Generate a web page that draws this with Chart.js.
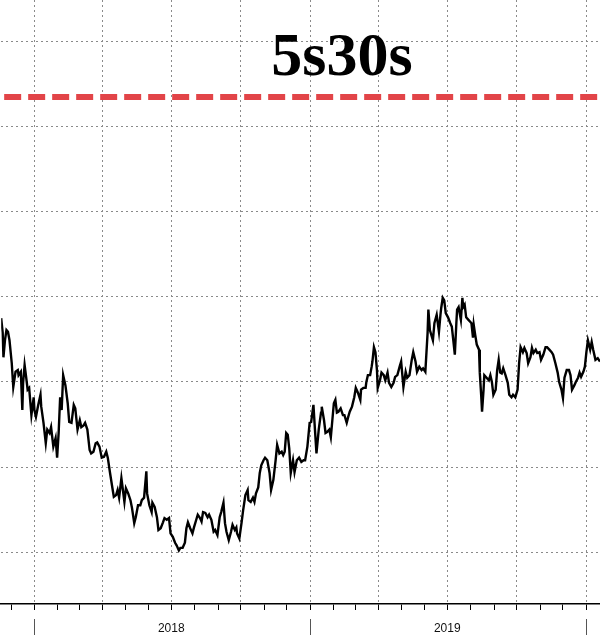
<!DOCTYPE html>
<html>
<head>
<meta charset="utf-8">
<script src="https://cdn.jsdelivr.net/npm/chart.js@4.4.0/dist/chart.umd.min.js"></script>
<style>
  html, body { margin: 0; padding: 0; background: #fff; }
  #wrap { width: 600px; height: 635px; position: relative; }
</style>
</head>
<body>
<div id="wrap"><canvas id="spread_chart"></canvas></div>
<script>
const chartTitle = '5s30s';

// days counted from 2018-01-01
const days = [
  -44,-42,-41,-39,-37,-35,-33,-30,-28,-25,
  -22,-21,-18,-16,-15,-13,-11,-9,-7,-4,
  -1,0,2,5,8,9,12,15,17,20,
  22,25,28,30,32,34,36,38,41,44,
  46,49,52,54,57,60,62,65,67,70,
  73,75,78,81,83,86,89,
  92,95,97,100,103,105,108,110,112,115,
  117,119,121,124,127,129,132,134,137,140,
  142,145,148,149,152,155,156,159,162,164,
  167,170,172,175,178,180,183,186,188,191,
  193,196,199,201,203,206,209,211,214,216,
  219,221,
  223,226,229,231,234,237,239,242,245,247,
  250,252,254,257,260,262,265,267,268,271,
  274,276,279,282,283,286,289,291,293,296,
  298,300,303,305,308,311,313,316,319,321,
  324,327,329,331,333,335,337,339,342,344,
  347,350,353,
  356,358,361,364,366,369,371,373,376,379,
  380,383,385,387,390,392,394,396,398,400,
  402,405,408,410,413,415,417,420,423,425,
  428,431,432,435,438,439,441,444,446,447,
  449,451,453,454,457,459,462,464,467,469,
  472,475,477,480,483,485,
  488,491,493,496,499,501,504,506,509,512,
  514,517,520,521,523,527,529,532,535,537,
  538,540,542,544,547,550,552,554,556,558,
  559,561,564,566,567,569,571,574,576,578,
  580,581,583,585,588,589,591,592,594,595,
  598,601,603,605,607,610,612,614,616,618,
  620,623,626,628,631,633,636,639,641,643,
  646,648,651,653,656,658,660,663,665,668,
  670,673,676,678,681,684,686,689,692,694,
  697,699,701,704,707,709,711,714,716,719,
  721,723,726,728,730,732,735,737,739,742,
  745,748
];

// 5s30s spread, bp
const spread = [
  57.5,55.8,52.9,54.9,56.1,55.9,54.9,52.2,49.4,51.2,
  51.4,50.8,51.2,46.7,49.9,52.0,50.6,49.1,49.3,46.1,
  48.2,46.7,45.9,47.3,48.5,47.1,45.2,42.8,44.4,44.0,
  44.7,42.4,43.4,41.1,44.0,48.2,46.7,50.8,49.6,47.5,
  45.3,45.2,47.3,46.9,44.4,45.5,44.7,44.9,45.2,44.4,
  42.0,41.6,41.8,42.8,42.9,42.4,41.1,
  41.2,41.8,41.1,39.3,37.6,36.5,36.7,37.3,36.4,38.7,
  37.3,35.9,37.5,36.9,36.1,35.2,33.4,34.1,35.5,35.5,
  36.1,36.4,39.5,36.9,35.5,34.7,35.8,35.3,34.1,32.6,
  32.8,33.5,34.0,33.8,34.0,32.2,31.8,31.1,30.8,30.2,
  30.5,30.5,31.1,32.8,33.5,32.8,32.2,32.9,33.8,34.4,
  34.0,33.6,
  34.7,34.6,34.1,34.4,33.8,32.4,32.6,32.0,34.1,34.7,
  35.8,33.4,32.4,31.4,32.4,33.2,32.6,32.9,32.2,31.6,
  33.5,34.9,36.7,37.3,36.1,35.9,36.4,35.9,36.9,37.6,
  39.3,40.2,40.8,41.1,40.8,39.3,37.3,38.5,40.8,42.6,
  41.6,41.8,41.4,41.8,44.0,43.8,42.2,39.3,40.8,39.4,
  40.8,41.1,40.6,
  40.8,40.8,42.4,45.2,45.3,47.3,44.4,41.6,44.4,46.4,
  47.1,45.5,44.0,44.1,44.4,43.5,45.5,47.5,47.9,46.4,
  46.5,46.9,46.1,46.1,45.2,45.9,46.5,47.1,48.2,49.3,
  48.7,47.9,49.1,49.3,49.3,50.0,50.8,50.8,51.8,52.4,
  54.1,53.5,51.4,49.3,50.2,51.1,50.8,50.2,51.1,49.9,
  49.4,49.9,50.6,50.8,51.8,52.4,
  49.4,51.2,50.5,50.8,52.6,53.5,52.4,51.2,51.8,51.4,
  51.6,51.2,55.8,58.5,56.1,54.9,56.9,57.9,55.9,57.9,
  58.7,59.9,59.6,58.1,57.6,56.9,56.5,54.9,53.2,56.9,
  58.5,58.8,57.3,59.9,58.8,59.1,57.6,57.3,57.1,56.9,
  55.2,56.7,55.5,54.4,53.8,51.1,48.2,46.5,49.1,50.8,
  50.5,50.2,50.8,50.0,48.5,49.1,51.4,52.6,51.1,51.0,
  51.6,50.8,49.9,48.5,48.2,48.5,48.2,49.1,52.2,54.1,
  53.5,54.0,53.4,52.2,52.9,54.0,53.4,53.8,53.4,53.5,
  52.6,53.2,54.1,54.1,53.8,53.5,53.2,52.2,51.1,50.0,
  49.1,48.1,50.5,51.4,51.4,50.8,49.1,49.6,50.0,50.5,
  51.1,50.6,51.2,51.8,53.5,54.9,53.8,54.7,53.8,52.6,
  52.8,52.4
];

const refLevel = 83.5;

const monthStarts = [-31, 0, 31, 59, 90, 120, 151, 181, 212, 243, 273, 304, 334,
  365, 396, 424, 455, 485, 516, 546, 577, 608, 638, 669, 699, 730];
const quarterStarts = [0, 90, 181, 273, 365, 455, 546, 638, 730];
const yearStarts = [0, 365, 730];
const labelDays = [181, 546];
const yearNames = ['2018', '2019'];
const gridLevels = [30, 40, 50, 60, 70, 80, 90];

const xMin = -44, xMax = 748;
const yMin = 23.9, yMax = 94.9;

/* extra drawing: year separators + big title */
const extras = {
  id: 'extras',
  afterDraw(chart) {
    const ctx = chart.ctx;
    const x = chart.scales.x;
    ctx.save();
    ctx.strokeStyle = '#555';
    ctx.lineWidth = 1;
    yearStarts.forEach(d => {
      const px = Math.round(x.getPixelForValue(d)) + 0.5;
      ctx.beginPath();
      ctx.moveTo(px, x.bottom - 16);
      ctx.lineTo(px, x.bottom);
      ctx.stroke();
    });
    ctx.font = 'bold 62px "Liberation Serif"';
    ctx.fillStyle = '#000';
    ctx.textAlign = 'center';
    ctx.textBaseline = 'alphabetic';
    ctx.fillText(chartTitle, 342, 75);
    ctx.restore();
  }
};

const ctx = document.getElementById('spread_chart').getContext('2d');

new Chart(ctx, {
  type: 'line',
  data: {
    datasets: [{
      data: days.map((d, i) => ({ x: d, y: spread[i] })),
      borderColor: '#000',
      borderWidth: 2.4,
      pointRadius: 0,
      tension: 0,
      fill: false
    }, {
      data: [{ x: xMin, y: refLevel }, { x: xMax, y: refLevel }],
      borderColor: 'rgb(226,68,72)',
      borderWidth: 6,
      borderDash: [17, 7],
      borderDashOffset: 21,
      pointRadius: 0,
      fill: false
    }]
  },
  options: {
    responsive: true,
    maintainAspectRatio: false,
    animation: false,
    layout: { padding: 0, autoPadding: false },
    plugins: {
      legend: { display: false },
      tooltip: { enabled: false },
      title: { display: false }
    },
    scales: {
      x: {
        type: 'linear',
        min: xMin,
        max: xMax,
        afterBuildTicks: scale => {
          scale.ticks = monthStarts.filter(v => v >= xMin && v <= xMax).map(v => ({ value: v }));
        },
        afterFit: scale => { scale.height = 31; },
        ticks: {
          autoSkip: false,
          maxRotation: 0,
          padding: 11,
          color: '#111',
          font: { family: 'Liberation Sans', size: 12 },
          callback: v => {
            const i = labelDays.indexOf(v);
            return i >= 0 ? yearNames[i] : '';
          }
        },
        grid: {
          color: c => (c.tick && quarterStarts.includes(c.tick.value)) ? '#8a8a8a' : 'rgba(0,0,0,0)',
          lineWidth: 1,
          tickColor: '#000',
          tickLength: 6,
          tickWidth: 1,
          tickBorderDash: []
        },
        border: { display: true, color: '#000', width: 1.5, dash: [2, 3] }
      },
      y: {
        min: yMin,
        max: yMax,
        afterBuildTicks: scale => {
          scale.ticks = gridLevels.map(v => ({ value: v }));
        },
        afterFit: scale => { scale.width = 0; },
        ticks: { display: false },
        grid: { color: '#8a8a8a', lineWidth: 1, drawTicks: false },
        border: { display: false, dash: [2, 3] }
      }
    }
  },
  plugins: [extras]
});
</script>
</body>
</html>
